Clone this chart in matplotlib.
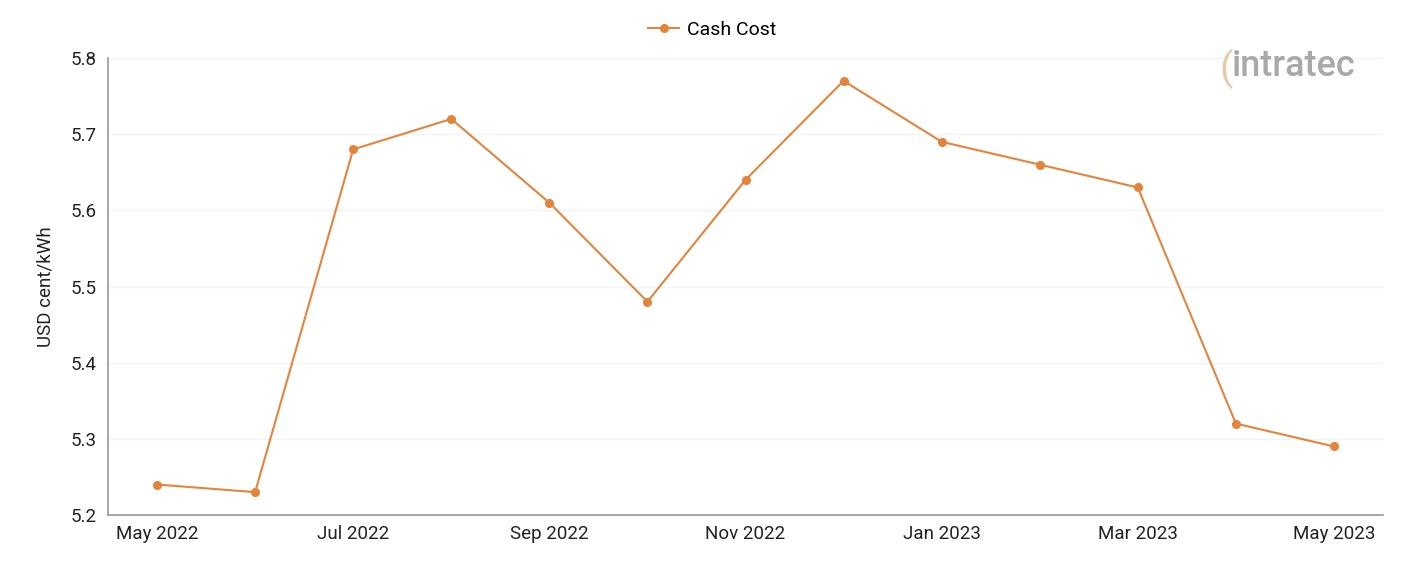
import matplotlib
matplotlib.use('Agg')
import matplotlib.pyplot as plt

months = ['May 2022', 'Jun 2022', 'Jul 2022', 'Aug 2022', 'Sep 2022', 'Oct 2022',
          'Nov 2022', 'Dec 2022', 'Jan 2023', 'Feb 2023', 'Mar 2023', 'Apr 2023', 'May 2023']
cash_cost = [5.24, 5.23, 5.68, 5.72, 5.61, 5.48, 5.64, 5.77, 5.69, 5.66, 5.63, 5.32, 5.29]
yticks = [5.2, 5.3, 5.4, 5.5, 5.6, 5.7, 5.8]

plt.rcParams['font.family'] = ['Roboto', 'DejaVu Sans']
orange = '#E3843C'

fig = plt.figure(figsize=(14.01, 5.61), dpi=100)
ax = fig.add_axes([108/1401, 1-515/561, (1383-108)/1401, (515-58)/561])

x = list(range(len(months)))
ax.plot(x, cash_cost, color=orange, lw=1.5, marker='o', ms=5.5, label='Cash Cost')

ax.set_xlim(-0.5, len(months)-0.5)
ax.set_ylim(5.2, 5.8)
ax.set_yticks(yticks)
ax.set_yticklabels(['{:.1f}'.format(v) for v in yticks], fontsize=13.5, color='#222222')
ax.set_xticks(x[::2])
ax.set_xticklabels(months[::2], fontsize=13.5, color='#222222')
ax.tick_params(length=0, pad=7)
ax.tick_params(axis='y', pad=8)
ax.grid(axis='y', color='#f3f3f3', lw=1)
ax.set_axisbelow(True)
for s in ['top', 'right']:
    ax.spines[s].set_visible(False)
for s in ['left', 'bottom']:
    ax.spines[s].set_color('#999999')
    ax.spines[s].set_linewidth(1.2)
ax.set_ylabel('USD cent/kWh', fontsize=13.5, color='#222222', labelpad=12)

fig.legend(loc='center', bbox_to_anchor=(0.5085, 1-30/561), frameon=False, fontsize=14,
           handlelength=1.6, handletextpad=0.4)

# logo
fig.text(1232/1401, 1-67/561, 'intratec', fontsize=26, color='#9a9a9a',
         ha='left', va='center', fontweight='medium', alpha=0.85)
fig.text(1220/1401, 1-69/561, '(', fontsize=28, color='#e8c9a8', ha='left', va='center')

fig.savefig('out.png', dpi=100)
